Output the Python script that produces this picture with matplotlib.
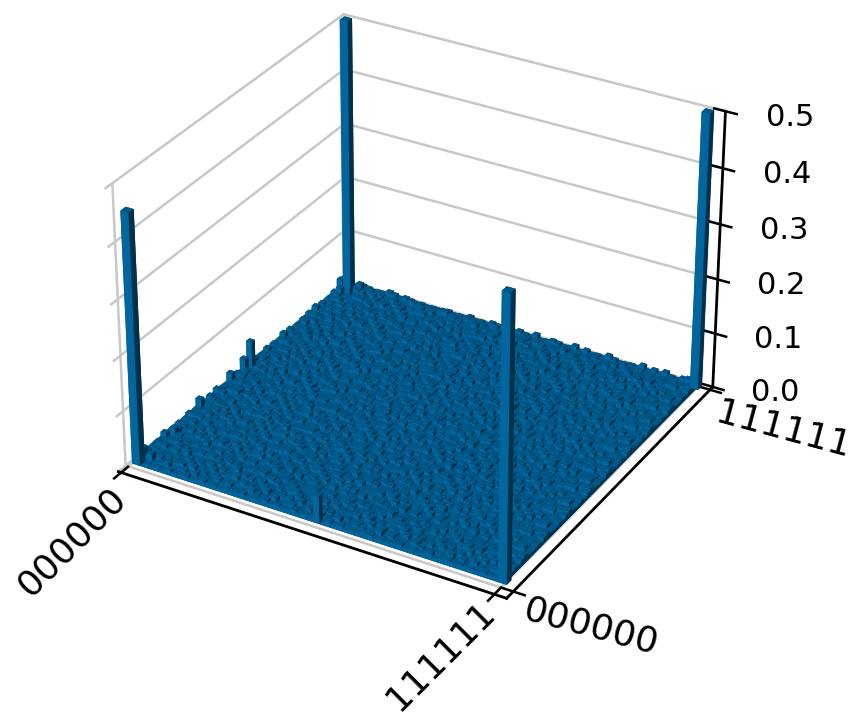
import numpy as np
import matplotlib
matplotlib.use("Agg")
import matplotlib.pyplot as plt

# background cell levels, judged by eye (0-7, see level_heights), row = x index, col = y index
background_levels = [
    "2635234173425136245316274315263415724361523746132546371524361725",
    "4213562314725346132574361245367123465213475261347526134256743162",
    "3152473615243716254361527346125473612536471253641725346127354261",
    "1463252741365214736251437625143265317426351427536124735261453726",
    "3524167352416273541627354162735416253741625374162537416235471625",
    "2743516243751624375162347516234751263475162347512634751263475162",
    "5162374152637415263741526374152637145263714526371452637145263714",
    "3471625347162534716253471625437162543716254371625437162543716254",
    "2536147253614725361472536417253641725364172536417253641275364127",
    "4172536241753624175362417536241753264175326417532641753264175326",
    "1635247163524716352471635274163527416352741635274163527146352714",
    "3254716325471632547163254716325471362547136254713625471362547136",
    "5417263541726354172635417263541762354176235417623541762354176235",
    "2361547236154723615472361547236514723651472365147236514723651472",
    "4725136472513647251364725136472153647215364721536472153647215364",
    "1546372154637215463721546372154367215436721543672154367215436721",
    "3627415362741536274153627415362471536247153624715362471536247153",
    "2153746215374621537462153746215347621534762153476215347621534762",
    "4371526437152643715264371526437512643751264375126437512643751264",
    "5264137526413752641375264137526143752614375261437526143752614375",
    "1742635174263517426351742635174623517462351746235174623517462351",
    "3516274351627435162743516274351267435126743512674351267435126743",
    "2475163247516324751632475163247156324715632471563247156324715632",
    "6132547613254761325476132547613524761352476135247613524761352476",
    "3714256371425637142563714256371245637124563712456371245637124563",
    "4251673425167342516734251673425617342561734256173425617342561734",
    "1563724156372415637241563724156732415673241567324156732415673241",
    "2647315264731526473152647315264135264713526471352647135264713526",
    "5372146537214653721465372146537124653712465371246537124653712465",
    "3145762314576231457623145762314756231475623147562314756231475623",
    "4726351472635147263514726351472531472653147265314726531472653147",
    "2351647235164723516472351647235647235164723516472351647235164723",
    "1674253167425316742531674253167253167425316742531674253167425316",
    "3462715346271534627153462715346715346271534627153462715346271534",
    "5213476521347652134765213476521476521347652134765213476521347652",
    "2735164273516427351642735164273164273516427351642735164273516427",
    "4156327415632741563274156327415327415632741563274156327415632741",
    "1327546132754613275461327546132546132754613275461327546132754613",
    "3641752364175236417523641752364752364175236417523641752364175236",
    "2517634251763425176342517634251634251763425176342517634251763425",
    "4273165427316542731654273165427165427316542731654273165427316542",
    "5346217534621753462175346217534217534621753462175346217534621753",
    "1762453176245317624531762453176453176245317624531762453176245317",
    "3125674312567431256743125674312674312567431256743125674312567431",
    "2654731265473126547312654731265731265473126547312654731265473126",
    "4317526431752643175264317526431526431752643175264317526431752643",
    "5472361547236154723615472361547361547236154723615472361547236154",
    "1236745123674512367451236745123745123674512367451236745123674512",
    "3765142376514237651423765142376142376514237651423765142376514237",
    "2541376254137625413762541376254376254137625413762541376254137625",
    "4163257416325741632574163257416257416325741632574163257416325741",
    "6327514632751463275146327514632514632751463275146327514632751463",
    "1475236147523614752361475236147236147523614752361475236147523614",
    "3256471325647132564713256471325471325647132564713256471325647132",
    "5731624573162457316245731624573624573162457316245731624573162457",
    "2164753216475321647532164753216753216475321647532164753216475321",
    "4627135462713546271354627135462135462713546271354627135462713546",
    "1352764135276413527641352764135764135276413527641352764135276413",
    "3716245371624537162453716245371245371624537162453716245371624537",
    "2473561247356124735612473561247561247356124735612473561247356124",
    "5126374512637451263745126374512374512637451263745126374512637451",
    "3641275364127536412753641275364275364127536412753641275364127536",
    "1752436175243617524361752436175436175243617524361752436175243617",
    "4235167423516742351674235167423167423516742351674235167423516742",
]
level_heights = [0.0060, 0.0063, 0.0067, 0.0072, 0.0080, 0.0095, 0.0115, 0.0140]

# the four tall corners, then the few bars that stick out of the floor
peak_x = [0, 0, 63, 63, 0, 32, 0, 0, 0, 1, 2, 0, 0, 1, 3, 0, 2]
peak_y = [0, 63, 0, 63, 33, 0, 31, 27, 18, 9, 60, 61, 62, 59, 62, 2, 1]
peak_z = [0.45, 0.5, 0.5, 0.5, 0.05, 0.05, 0.028, 0.022, 0.022, 0.02, 0.022, 0.025, 0.022, 0.022, 0.02, 0.02, 0.02]
n_tall = 4

z_ticks = [0.0, 0.1, 0.2, 0.3, 0.4, 0.5]
state_labels = ["000000", "111111"]

bar_color = "#0173b2"
grid_color = "#c8c8c8"

heights = np.array([[level_heights[int(c)] for c in row] for row in background_levels])
widths = np.full((64, 64), 1.0)
for px, py, pz in zip(peak_x, peak_y, peak_z):
    heights[px, py] = pz
# the tall bars look a little wider than one cell
for px, py in zip(peak_x[:n_tall], peak_y[:n_tall]):
    widths[px, py] = 1.4

xpos, ypos = np.meshgrid(np.arange(64), np.arange(64), indexing="ij")

fig = plt.figure(figsize=(8.67, 7.18), dpi=100)
ax = fig.add_axes([-0.0025, 0.103, 0.955, 0.955], projection="3d")
ax.set_box_aspect((4, 4, 2.9))
ax.bar3d(xpos.ravel(), ypos.ravel(), np.zeros(64 * 64), widths.ravel(), widths.ravel(), heights.ravel(),
         color=bar_color, edgecolor="none", linewidth=0)

ax.set_xlim(-0.5, 66)
ax.set_ylim(-3, 65)
ax.set_zlim(0, 0.5)
ax.view_init(elev=30, azim=-60)

ax.set_xticks([0, 64])
ax.set_xticklabels(["", ""])
ax.set_yticks([-1, 64])
ax.set_yticklabels(["", ""])
ax.set_zticks(z_ticks)
ax.set_zticklabels([f"{t:.1f}" for t in z_ticks], fontsize=22)
ax.tick_params(axis="z", pad=20)

# state labels placed on the figure, tick labels in 3d would not sit where they do in the original
fig.text(72 / 867, 1 - 542 / 718, state_labels[0], fontsize=26, rotation=45, ha="center", va="center")
fig.text(441 / 867, 1 - 656 / 718, state_labels[1], fontsize=26, rotation=45, ha="center", va="center")
fig.text(591 / 867, 1 - 627 / 718, state_labels[0], fontsize=26, rotation=-15, ha="center", va="center")
fig.text(783 / 867, 1 - 430 / 718, state_labels[1], fontsize=26, rotation=-15, ha="center", va="center")

for axis in (ax.xaxis, ax.yaxis, ax.zaxis):
    axis.set_pane_color((1, 1, 1, 1))
    axis.pane.set_edgecolor(grid_color)
    axis._axinfo["grid"]["color"] = grid_color
    axis._axinfo["grid"]["linewidth"] = 1.8
    axis._axinfo["tick"]["inward_factor"] = 0.35
    axis._axinfo["tick"]["outward_factor"] = 0.35
    axis._axinfo["tick"]["linewidth"] = {True: 1.8, False: 1.0}
    axis.line.set_linewidth(2.0)
    axis.line.set_color("black")

plt.savefig("out.png", dpi=100)
